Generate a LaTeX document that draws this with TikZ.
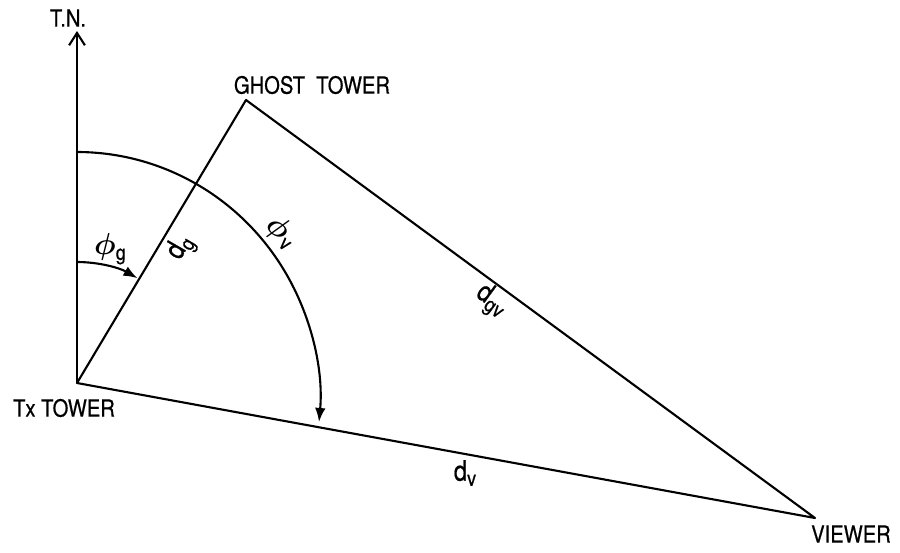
\documentclass[tikz,border=0pt]{standalone}
\usepackage{amsmath, amssymb}
\usepackage{fontspec}
\usepackage{tikz}
\usetikzlibrary{arrows.meta, positioning}
\newfontfamily\labelfont[FakeStretch=0.85, FakeBold=0.6]{TeX Gyre Heros}
\newcommand{\lowsub}[1]{\raisebox{-0.35ex}{\fontsize{12}{13}\selectfont #1}}

\begin{document}
\begin{tikzpicture}[x=0.02cm, y=-0.02cm, >={Latex[length=8pt, width=6pt]}, line width=1.2pt,
    lbl/.style={font=\labelfont\fontsize{13.5}{15}\selectfont},
    sym/.style={font=\labelfont\fontsize{16}{18}\selectfont, inner sep=1pt}]

    % frame of the picture (900 x 552)
    \useasboundingbox (0,0) rectangle (900,552);

    % 1. Towers and viewer
    \coordinate (tx) at (77,383);
    \coordinate (ghost) at (246,100);
    \coordinate (viewer) at (815,518);
    \coordinate (north) at (77,31);

    % True north
    \draw[-{Straight Barb[length=7pt, width=9pt]}] (tx) -- (north);
    \node[lbl] (tnlbl) at (68,18) {T.N.};

    % 2. Triangle of paths
    \draw[line join=round] (tx) -- (ghost) -- (viewer) -- cycle;

    % Names of the points
    \node[lbl] (ghostlbl) at (312,85) {GHOST\ \ TOWER};
    \node[lbl] (txlbl) at (64,408) {Tx TOWER};
    \node[lbl] (viewerlbl) at (851,534) {VIEWER};

    % 3. Bearing angles
    \draw[->] (77,262) arc[start angle=-90, end angle=-60, radius=121];
    \draw[->] (77,152) arc[start angle=-90, end angle=5.1, x radius=243, y radius=248];

    \node[sym] (phig) at (110,249) {$\boldsymbol{\phi}$\lowsub{g}};
    \node[sym, rotate=-40] (phiv) at (281,232) {$\boldsymbol{\phi}$\lowsub{v}};

    % 4. Distances
    \node[sym, rotate=60] (dg) at (181,248) {d\lowsub{g}};
    \node[sym, rotate=-36] (dgv) at (491,301) {d\lowsub{gv}};
    \node[sym] (dv) at (465,473) {d\lowsub{v}};

\end{tikzpicture}
\end{document}
